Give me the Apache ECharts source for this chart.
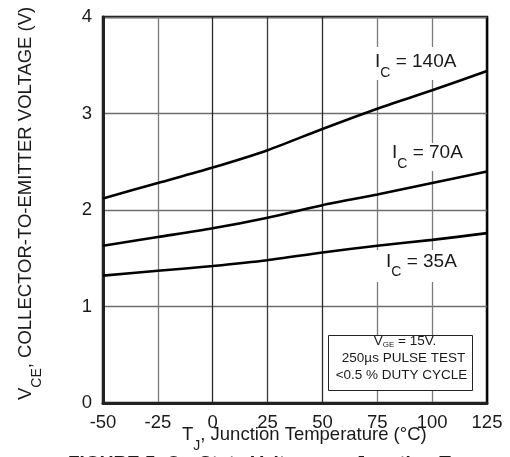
<!DOCTYPE html>
<html><head><meta charset="utf-8">
<script src="https://cdn.jsdelivr.net/npm/echarts@6/dist/echarts.min.js"></script>
<style>html,body{margin:0;padding:0;background:#fff}#c{width:510px;height:457px}</style>
</head><body><div id="c"></div>
<script>
// ---- data ----
const temps = [-50, -25, 0, 25, 50, 75, 100, 125];
const vce140 = [2.12, 2.28, 2.44, 2.62, 2.84, 3.05, 3.24, 3.44];
const vce70  = [1.63, 1.72, 1.81, 1.92, 2.05, 2.16, 2.28, 2.40];
const vce35  = [1.32, 1.37, 1.42, 1.48, 1.56, 1.63, 1.69, 1.76];
const seriesNames = ['140A', '70A', '35A'];
const xTicks = [-50, -25, 0, 25, 50, 75, 100, 125];
const yTicks = [0, 1, 2, 3, 4];

const FF = '"Liberation Sans", Arial, Helvetica, sans-serif';
const TXT = '#1a1a1a';
const ctx = document.createElement('canvas').getContext('2d');
function tw(t, size, weight) { ctx.font = (weight || 'normal') + ' ' + size + 'px "Liberation Sans"'; return ctx.measureText(t).width; }

// build a run of text pieces (normal + subscript), left-start x, center y
function run(pieces, x, y, z) {
  const els = [];
  let cx = x;
  pieces.forEach(p => {
    els.push({ type: 'text', z: z || 5, x: cx, y: y + (p.dy || 0),
      style: { text: p.t, fontSize: p.s, fontFamily: FF, fontWeight: p.w || 'normal', fill: TXT, align: 'left', verticalAlign: 'middle' } });
    cx += tw(p.t, p.s, p.w);
  });
  return { els, width: cx - x };
}
function centeredRun(pieces, cxm, y, z) {
  let w = 0; pieces.forEach(p => w += tw(p.t, p.s, p.w));
  return run(pieces, cxm - w / 2, y, z).els;
}

const chart = echarts.init(document.getElementById('c'), null, { renderer: 'canvas' });

const graphics = [];
// white backgrounds behind curve labels
[[368, 47, 92, 33], [386, 143, 82, 28], [370, 250, 92, 32]].forEach(r => {
  graphics.push({ type: 'rect', z: 1, shape: { x: r[0], y: r[1], width: r[2], height: r[3] }, style: { fill: '#fff' } });
});
function icLabel(x, y, name) {
  return run([{ t: 'I', s: 19 }, { t: 'C', s: 14, dy: 11 }, { t: ' = ' + name, s: 19 }], x, y).els;
}
graphics.push(...icLabel(375, 62, seriesNames[0]));
graphics.push(...icLabel(392, 153, seriesNames[1]));
graphics.push(...icLabel(386, 261.5, seriesNames[2]));

// legend/test-condition box
graphics.push({ type: 'rect', z: 3, shape: { x: 328.5, y: 335.5, width: 144, height: 55 }, style: { fill: '#fff', stroke: '#222', lineWidth: 1 } });
graphics.push(...centeredRun([{ t: 'V', s: 13.5 }, { t: 'GE', s: 8, dy: 3 }, { t: ' = 15V.', s: 13.5 }], 405, 341.5));
graphics.push(...centeredRun([{ t: '250\u00b5s PULSE TEST', s: 13.5 }], 403.5, 358));
graphics.push(...centeredRun([{ t: '<0.5 % DUTY CYCLE', s: 13.5 }], 401.5, 375));

// x axis title
graphics.push(...run([{ t: 'T', s: 18.5 }, { t: 'J', s: 14, dy: 11 }, { t: ', Junction Temperature (\u00b0C)', s: 18.5 }], 182, 435).els);

// y axis title (rotated)
const yt = run([{ t: 'V', s: 18.5 }, { t: 'CE', s: 14, dy: 11 }, { t: ', COLLECTOR-TO-EMITTER VOLTAGE (V)', s: 18.5 }], 0, 0).els;
graphics.push({ type: 'group', x: 26, y: 400, rotation: Math.PI / 2, children: yt });

// figure caption (clipped at bottom)
graphics.push({ type: 'text', z: 5, x: 68, y: 454, style: { text: 'FIGURE 5. On-State Voltage vs. Junction Temperature', fontSize: 19, fontWeight: 'bold', fontFamily: FF, fill: TXT, align: 'left', verticalAlign: 'top' } });

function mk(name, vals) {
  return { name: name, type: 'line', z: 4, smooth: 0.25, symbol: 'none',
    lineStyle: { color: '#000', width: 2.6 },
    data: temps.map((t, i) => [t, vals[i]]) };
}

chart.setOption({
  animation: false,
  backgroundColor: '#fff',
  grid: { left: 103, right: 23, top: 17, bottom: 54, show: true, borderColor: '#111', borderWidth: 2.5, backgroundColor: 'transparent' },
  xAxis: {
    type: 'value', min: xTicks[0], max: xTicks[xTicks.length - 1], interval: 25,
    axisLine: { show: true, onZero: false, lineStyle: { color: '#222', width: 3 } },
    axisTick: { show: false },
    axisLabel: { fontSize: 18.5, fontFamily: FF, color: TXT, margin: 10 },
    splitLine: { show: true, showMinLine: true, showMaxLine: true, lineStyle: { width: 1.3, color: ['#000', '#7a7a7a', '#2a2a2a', '#3a3a3a', '#2a2a2a', '#7a7a7a', '#7a7a7a', '#000'] } }
  },
  yAxis: {
    type: 'value', min: yTicks[0], max: yTicks[yTicks.length - 1], interval: 1,
    axisLine: { show: true, onZero: false, lineStyle: { color: '#222', width: 3 } },
    axisTick: { show: false },
    axisLabel: { fontSize: 18.5, fontFamily: FF, color: TXT, margin: 11, padding: [6, 0, 0, 0] },
    splitLine: { show: true, lineStyle: { width: 1.3, color: '#6e6e6e' } }
  },
  series: [mk(seriesNames[0], vce140), mk(seriesNames[1], vce70), mk(seriesNames[2], vce35)],
  graphic: { elements: graphics }
});
</script></body></html>
